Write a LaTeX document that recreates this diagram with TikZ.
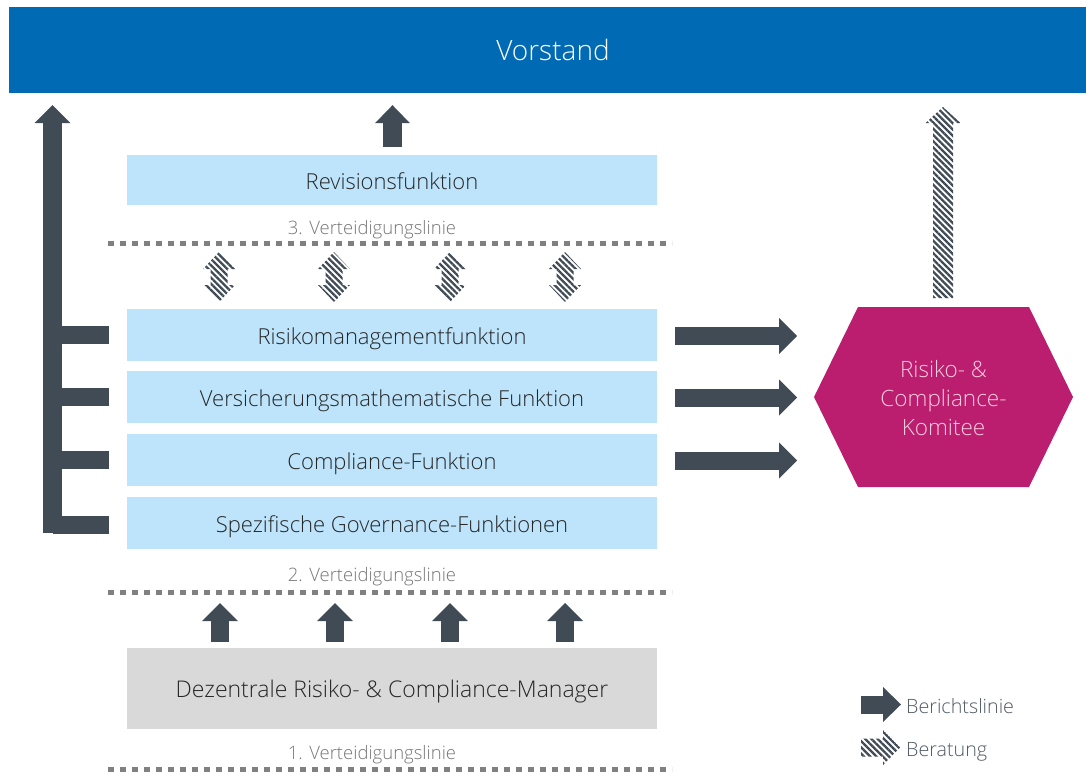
\documentclass[tikz,border=0pt]{standalone}
\usepackage{fontspec}
\IfFontExistsTF{Open Sans Light}{\setmainfont{Open Sans Light}}{\setmainfont{Open Sans}}
\usetikzlibrary{arrows.meta,patterns.meta,calc}
\definecolor{vblue}{RGB}{0,106,180}
\definecolor{boxblue}{RGB}{189,228,251}
\definecolor{boxgray}{RGB}{217,217,217}
\definecolor{adark}{RGB}{64,75,86}
\definecolor{hexmag}{RGB}{187,30,110}
\definecolor{hextext}{RGB}{246,204,224}
\definecolor{lblgray}{RGB}{118,118,118}
\definecolor{boxtext}{RGB}{38,38,38}
\definecolor{legtext}{RGB}{80,90,100}
\definecolor{dotgray}{RGB}{128,128,128}
\begin{document}
\begin{tikzpicture}[x=1pt,y=-1pt,
  box/.style={rectangle, fill=boxblue, minimum width=530pt, minimum height=52pt, inner sep=0pt,
    font=\fontsize{22}{26}\selectfont, text=boxtext, text height=18pt, text depth=0pt},
  lbl/.style={font=\fontsize{18.5}{22}\selectfont, text=lblgray, inner sep=0pt, text height=14pt, text depth=0pt},
  legl/.style={font=\fontsize{19.7}{23}\selectfont, text=legtext, inner sep=0pt, anchor=west, text height=14pt, text depth=0pt},
  barrow/.style={draw=adark, line width=18pt, -{Triangle[width=36pt,length=18pt,line width=0pt]}},
  branchline/.style={draw=adark, line width=18pt},
  dotline/.style={draw=dotgray, line width=5pt, dash pattern=on 6pt off 6pt},
  stripe/.style={pattern={Lines[angle=-45,distance=4.4pt,line width=2.3pt]}, pattern color=adark},
  pics/dblarrow/.style={code={
    \fill[stripe] (0,0) -- (16,17) -- (8.5,17) -- (8.5,33) -- (16,33) -- (0,50) -- (-16,33) -- (-8.5,33) -- (-8.5,17) -- (-16,17) -- cycle;}},
  pics/longup/.style={code={
    \fill[stripe] (0,0) -- (17.5,16) -- (10,16) -- (10,191) -- (-10,191) -- (-10,16) -- (-17.5,16) -- cycle;}},
  pics/legstripe/.style={code={
    \fill[stripe] (0,-9) -- (22,-9) -- (22,-17.5) -- (39,0) -- (22,17.5) -- (22,9) -- (0,9) -- cycle;}}
]
\useasboundingbox (0,0) rectangle (1086,776);

% Vorstand
\node[rectangle, fill=vblue, minimum width=1077pt, minimum height=86pt, inner sep=0pt] (vorstand) at (547.5,50) {};
\node[text=white, font=\fontsize{28}{33}\selectfont, inner sep=0pt, text height=20pt, text depth=0pt] (vtext) at (553,50) {Vorstand};

% boxes
\node[box, minimum height=50pt] (rev) at (392,180) {Revisionsfunktion};
\node[box] (risk) at (392,335) {Risikomanagementfunktion};
\node[box] (vers) at (392,397) {Versicherungsmathematische Funktion};
\node[box] (comp) at (392,460) {Compliance-Funktion};
\node[box] (spez) at (392,523) {Spezifische Governance-Funktionen};
\node[box, fill=boxgray, minimum height=81pt, font=\fontsize{23}{27}\selectfont, text height=18.5pt] (dez) at (392,688.5)
  {Dezentrale Risiko- \& Compliance-Manager};

% lines of defence
\node[lbl] (l3) at (372,227) {3. Verteidigungslinie};
\node[lbl] (l2) at (372,574) {2. Verteidigungslinie};
\node[lbl] (l1) at (372,752) {1. Verteidigungslinie};
\coordinate (d3a) at (108,243); \coordinate (d3b) at (672,243);
\coordinate (d2a) at (108,592); \coordinate (d2b) at (672,592);
\coordinate (d1a) at (108,769); \coordinate (d1b) at (672,769);
\draw[dotline] (d3a) -- (d3b);
\draw[dotline] (d2a) -- (d2b);
\draw[dotline] (d1a) -- (d1b);

% revision -> Vorstand
\draw[barrow, line width=19pt, -{Triangle[width=35pt,length=18pt,line width=0pt]}]
  ($(rev.north)+(0.5,-8)$) -- ($(rev.north |- vorstand.south)+(0.5,12)$);

% consultation double arrows
\foreach \x in {219,334,450,565} { \pic at (\x,252) {dblarrow}; }

% reporting arrows from decentral managers
\foreach \x in {220,335,450,565} {
  \draw[barrow] (\x,642) -- (\x,603);
}

% left trunk
\coordinate (trunkbot) at (52.5,533);
\draw[barrow, line width=19pt] (trunkbot) -- ($(trunkbot |- vorstand.south)+(0,12)$);
\draw[branchline] (risk.west -| trunkbot) -- ($(risk.west)+(-18,0)$);
\draw[branchline] (vers.west -| trunkbot) -- ($(vers.west)+(-18,0)$);
\draw[branchline] (comp.west -| trunkbot) -- ($(comp.west)+(-18,0)$);
\draw[branchline] ($(spez.west -| trunkbot)+(0,1.5)$) -- ($(spez.west)+(-18,1.5)$);

% hexagon
\coordinate (hexc) at (943.5,397);
\fill[hexmag] ($(hexc)+(-129.5,0)$) -- ($(hexc)+(-85.5,-90)$) -- ($(hexc)+(85.5,-90)$)
  -- ($(hexc)+(129.5,0)$) -- ($(hexc)+(85.5,90)$) -- ($(hexc)+(-85.5,90)$) -- cycle;
\node[align=center, text=hextext, font=\fontsize{22.5}{29}\selectfont, inner sep=0pt] (hex) at (943.5,398)
  {Risiko- \&\\Compliance-\\Komitee};

% right arrows to committee
\draw[barrow] ($(risk.east)+(18,1)$) -- ($(risk.east)+(140,1)$);
\draw[barrow] ($(vers.east)+(18,0.5)$) -- ($(vers.east)+(140,0.5)$);
\draw[barrow] ($(comp.east)+(18,0.5)$) -- ($(comp.east)+(140,0.5)$);

% committee -> Vorstand (consultation)
\pic at (943,107) {longup};

% legend
\coordinate (lg1) at (861,704.5);
\draw[barrow, -{Triangle[width=35pt,length=18pt,line width=0pt]}] (lg1) -- ++(40,0);
\node[legl] (leg1) at (906,706) {Berichtslinie};
\pic at (861,747.5) {legstripe};
\node[legl] (leg2) at (906,749) {Beratung};
\end{tikzpicture}
\end{document}
